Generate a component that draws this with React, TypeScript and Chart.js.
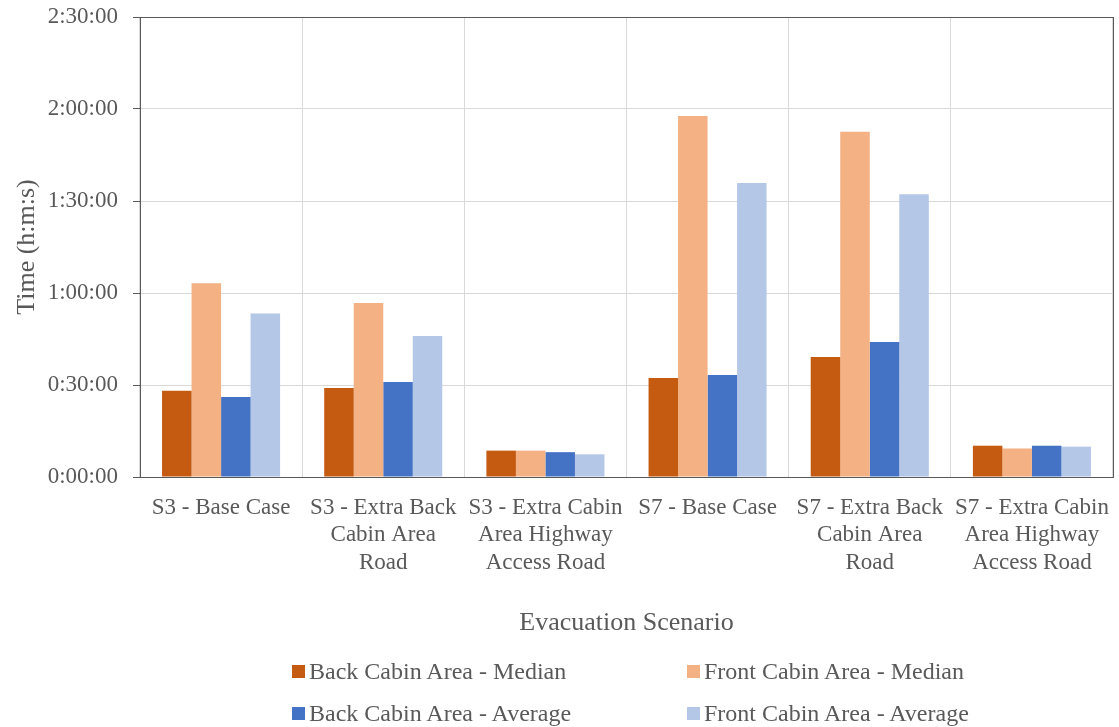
import React, { useEffect, useRef } from "react";
import { Chart, registerables } from "chart.js";

Chart.register(...registerables);

// Evacuation times in minutes for each scenario
const scenarios: string[][] = [
  ["S3 - Base Case"],
  ["S3 - Extra Back", "Cabin Area", "Road"],
  ["S3 - Extra Cabin", "Area Highway", "Access Road"],
  ["S7 - Base Case"],
  ["S7 - Extra Back", "Cabin Area", "Road"],
  ["S7 - Extra Cabin", "Area Highway", "Access Road"],
];

const backCabinMedian = [28.1, 29.0, 8.6, 32.3, 39.1, 10.2];
const frontCabinMedian = [63.2, 56.7, 8.6, 117.7, 112.6, 9.3];
const backCabinAverage = [26.1, 31.0, 8.1, 33.3, 44.0, 10.2];
const frontCabinAverage = [53.3, 46.0, 7.4, 95.9, 92.2, 9.9];

const seriesNames = [
  "Back Cabin Area - Median",
  "Front Cabin Area - Median",
  "Back Cabin Area - Average",
  "Front Cabin Area - Average",
];
const seriesColors = ["#C55A11", "#F4B183", "#4472C4", "#B4C7E7"];

const yTickMinutes = [0, 30, 60, 90, 120, 150];

const FONT = "'Liberation Serif', 'Times New Roman', serif";
const TEXT = "#595959";
const AXIS = "#595959";
const GRID = "#d9d9d9";

function formatHMS(minutes: number): string {
  const h = Math.floor(minutes / 60);
  const m = Math.round(minutes % 60);
  return `${h}:${String(m).padStart(2, "0")}:00`;
}

const frameBorder = {
  id: "frameBorder",
  afterDraw(chart: any) {
    const { ctx, chartArea } = chart;
    ctx.save();
    ctx.strokeStyle = AXIS;
    ctx.lineWidth = 1;
    ctx.strokeRect(
      Math.round(chartArea.left) + 0.5,
      Math.round(chartArea.top) + 0.5,
      Math.round(chartArea.right - chartArea.left),
      Math.round(chartArea.bottom - chartArea.top)
    );
    ctx.restore();
  },
};

export default function App() {
  const canvasRef = useRef<HTMLCanvasElement | null>(null);

  useEffect(() => {
    if (!canvasRef.current) return;
    const values = [backCabinMedian, frontCabinMedian, backCabinAverage, frontCabinAverage];
    const chart = new Chart(canvasRef.current, {
      type: "bar",
      data: {
        labels: scenarios,
        datasets: values.map((v, i) => ({
          label: seriesNames[i],
          data: v,
          backgroundColor: seriesColors[i],
          borderWidth: 0,
          categoryPercentage: 0.728,
          barPercentage: 1.0,
        })),
      },
      options: {
        animation: false,
        responsive: true,
        maintainAspectRatio: false,
        layout: { padding: { left: 0, right: 6, top: 17, bottom: 88 } },
        plugins: {
          legend: { display: false },
          tooltip: { enabled: false },
        },
        scales: {
          x: {
            grid: { color: GRID, drawTicks: false, offset: true },
            border: { color: AXIS },
            ticks: {
              color: TEXT,
              font: { family: FONT, size: 23, lineHeight: 1.2 },
              padding: 17,
              maxRotation: 0,
              autoSkip: false,
            },
            title: {
              display: true,
              text: "Evacuation Scenario",
              color: TEXT,
              font: { family: FONT, size: 26, lineHeight: 1.2 },
              padding: { top: 0, bottom: 0 },
            },
            afterFit(scale: any) {
              scale.height = 162;
              scale.paddingLeft = 0;
              scale.paddingRight = 0;
            },
          },
          y: {
            min: 0,
            max: 150,
            afterBuildTicks(scale: any) {
              scale.ticks = yTickMinutes.map((v) => ({ value: v }));
            },
            grid: {
              color: GRID,
              tickColor: AXIS,
              tickLength: 7,
            },
            border: { color: AXIS },
            ticks: {
              color: TEXT,
              font: { family: FONT, size: 23 },
              padding: 15,
              callback: (v: any) => formatHMS(Number(v)),
            },
            title: {
              display: true,
              text: "Time (h:m:s)",
              color: TEXT,
              font: { family: FONT, size: 26, lineHeight: 1.2 },
              padding: { top: 12, bottom: 0 },
            },
            afterFit(scale: any) {
              scale.width = 140;
              scale.paddingTop = 0;
              scale.paddingBottom = 0;
            },
          },
        },
      },
      plugins: [frameBorder],
    });
    return () => chart.destroy();
  }, []);

  const legendPos = [
    { left: 292, top: 665 },
    { left: 687, top: 665 },
    { left: 292, top: 707 },
    { left: 687, top: 707 },
  ];

  return (
    <div style={{ position: "absolute", left: 0, top: 0, width: 1119, height: 727, background: "#fff" }}>
      <div style={{ position: "absolute", left: 0, top: 0, width: 1119, height: 727 }}>
        <canvas ref={canvasRef} />
      </div>
      {seriesNames.map((name, i) => (
        <div
          key={name}
          style={{
            position: "absolute",
            left: legendPos[i].left,
            top: legendPos[i].top - 8,
            height: 29,
            display: "flex",
            alignItems: "center",
            whiteSpace: "nowrap",
            fontFamily: FONT,
            fontSize: 24,
            color: TEXT,
          }}
        >
          <span style={{ display: "inline-block", width: 13, height: 13, background: seriesColors[i], marginRight: 4 }} />
          <span>{name}</span>
        </div>
      ))}
    </div>
  );
}
